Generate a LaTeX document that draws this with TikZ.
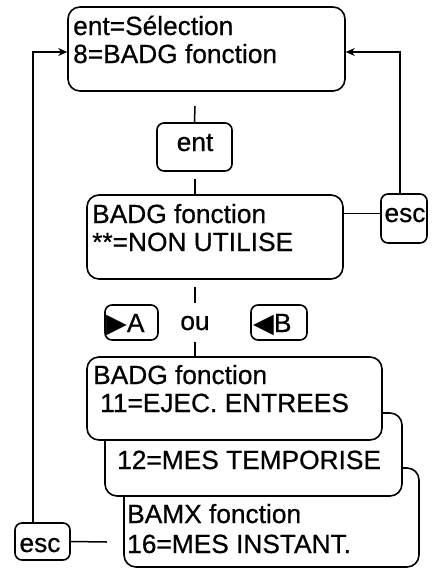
\documentclass[tikz,border=0pt]{standalone}
\usepackage{fontspec}
\setmainfont[FakeBold=0.6]{Liberation Sans}
\newfontfamily\symbfont{DejaVu Sans}
\usetikzlibrary{arrows.meta}
\tikzset{
  panel/.style={draw, line width=1.6pt, rounded corners=12pt, fill=white, inner sep=0pt},
  key/.style={draw, line width=1.6pt, rounded corners=7pt, fill=white, inner sep=0pt},
  txt/.style={anchor=base west, inner sep=0pt, font=\fontsize{26.3}{28}\selectfont},
  lbl/.style={anchor=base, inner sep=0pt, font=\fontsize{26.3}{28}\selectfont},
  wire/.style={line width=1.5pt},
  arr/.style={wire, -{Stealth[length=9pt,width=8pt]}},
}
\newcommand{\tri}[1]{{\symbfont\fontsize{27}{27}\selectfont #1}}
\begin{document}
\begin{tikzpicture}[x=1pt, y=-1pt]
  \useasboundingbox (0,0) rectangle (438,568);
  % menu boxes
  \node[panel, minimum width=277pt, minimum height=84pt] (sel) at (206.5,49) {};
  \node[key, minimum width=75pt, minimum height=48pt] (entk) at (194.5,147) {};
  \node[panel, minimum width=256pt, minimum height=84pt] (nonu) at (215,237) {};
  \node[key, minimum width=46pt, minimum height=49pt] (escr) at (404,218.5) {};
  \node[key, minimum width=53pt, minimum height=35pt] (keya) at (131.5,322.5) {};
  \node[key, minimum width=56pt, minimum height=35pt] (keyb) at (279,322.5) {};
  % stacked list, back to front
  \node[panel, minimum width=295pt, minimum height=99pt] (mesi) at (271.5,517.5) {};
  \node[panel, minimum width=297pt, minimum height=83pt] (mest) at (253.5,454.5) {};
  \node[panel, minimum width=295pt, minimum height=83pt] (ejec) at (234.5,398.5) {};
  \node[key, minimum width=55pt, minimum height=37pt] (escl) at (42.5,541.5) {};
  % texts
  \node[txt] (sel1) at (73,35) {ent=Sélection};
  \node[txt] (sel2) at (73,63) {8=BADG fonction};
  \node[lbl] (entl) at (195,151) {ent};
  \node[txt] (nonu1) at (92,223) {BADG fonction};
  \node[txt] (nonu2) at (92,251) {**=NON UTILISE};
  \node[lbl] (escrl) at (405,222) {esc};
  \node[txt] (keyal) at (106,332) {\tri{▶}A};
  \node[lbl] (oul) at (195,330) {ou};
  \node[txt] (keybl) at (253,332) {\tri{◀}B};
  \node[txt] (ejec1) at (93,384) {BADG fonction};
  \node[txt] (ejec2) at (100,412) {11=EJEC. ENTREES};
  \node[txt] (mest1) at (117,469) {12=MES TEMPORISE};
  \node[txt] (mesi1) at (127,523) {BAMX fonction};
  \node[txt] (mesi2) at (127,553) {16=MES INSTANT.};
  \node[lbl] (escll) at (40,552) {esc};
  % connectors
  \coordinate (s1) at (195,106);
  \coordinate (s2) at (195,179);
  \coordinate (s3) at (195,287);
  \coordinate (s4) at (195,303);
  \coordinate (s5) at (195,342);
  \coordinate (s6) at (107,542);
  \draw[wire] (s1) -- (entk.north);
  \draw[wire] (s2) -- (s2 |- nonu.north);
  \draw[wire] (s3) -- (s4);
  \draw[wire] (s5) -- (s5 |- ejec.north);
  \draw[wire] ([yshift=5pt]escr.west -| nonu.east) -- ([yshift=5pt]escr.west);
  \draw[arr] ([xshift=-4pt]escr.north) |- ([yshift=-3pt]sel.east);
  \draw[arr] ([xshift=-9.5pt]escl.north) |- ([yshift=-3pt]sel.west);
  \draw[wire] (escl.east) -- (s6);
\end{tikzpicture}
\end{document}
